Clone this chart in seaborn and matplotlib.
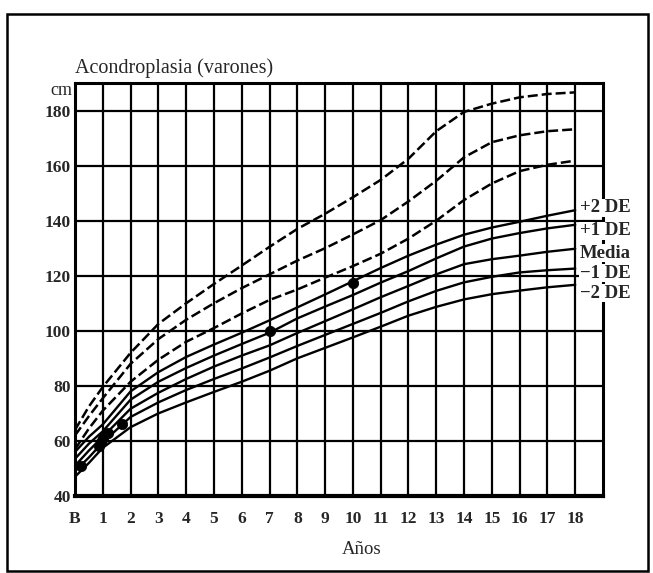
import numpy as np
import pandas as pd
import matplotlib
matplotlib.use("Agg")
import matplotlib.pyplot as plt
import seaborn as sns
from matplotlib.patches import Rectangle

# Ages (B = birth) and curves
ages = [0, 0.5, 1, 2, 3, 4, 5, 6, 7, 8, 9, 10, 11, 12, 13, 14, 15, 16, 17, 18]

# dashed reference curves (normal population)
norm_high = [64, 72.5, 79.6, 92, 102.5, 110, 117, 123.7, 130.5, 137, 142.5, 148.5, 154.8, 162.5, 172.5, 179.5, 182.5, 184.8, 186, 186.6]
norm_mid = [62, 69, 75.5, 88, 97, 104, 110, 115.5, 120.5, 125.5, 130, 135, 140.2, 147, 154.5, 163, 168.5, 171, 172.5, 173.2]
norm_low = [57, 64.5, 71, 81.5, 89.5, 96, 101, 106.3, 111.2, 115, 119.3, 123.5, 128, 133.5, 140, 147.5, 153.5, 158, 160.3, 161.8]

# achondroplasia curves
plus2 = [56, 61.5, 66, 78, 85, 90.5, 95, 99.3, 103.8, 108.5, 113.2, 118, 122.8, 127.3, 131.3, 134.9, 137.5, 139.6, 141.8, 143.8]
plus1 = [53.5, 59, 63.5, 75, 81.5, 86.5, 91, 95.2, 99.3, 104.5, 108.8, 113, 117.5, 121.7, 126.3, 130.6, 133.5, 135.5, 137.2, 138.5]
media = [51, 56.5, 61.5, 71.7, 77.5, 82.5, 87, 91, 94.7, 99.2, 103.5, 107.8, 112.2, 116.3, 120.5, 124.2, 126, 127.3, 128.7, 129.8]
minus1 = [49, 54, 59.5, 68.7, 74, 78.5, 82.5, 86.3, 90.3, 94.5, 98.5, 102.5, 106.5, 110.7, 114.5, 117.6, 119.6, 121.2, 122, 122.6]
minus2 = [47, 52, 57.5, 65, 70, 74, 77.8, 81.5, 85.5, 90, 93.8, 97.6, 101.5, 105.5, 108.7, 111.4, 113.3, 114.6, 115.8, 116.7]

# patient measurements
pt_age = [0.2, 0.88, 0.95, 1.02, 1.2, 1.68, 7.0, 10.0]
pt_cm = [51, 58.3, 59.5, 61, 63, 66.3, 100, 117.5]

x_ticks = list(range(0, 19))
x_labels = ["B"] + [str(i) for i in range(1, 19)]
y_ticks = list(range(40, 181, 20))
curve_labels = ["+2 DE", "+1 DE", "Media", "\u22121 DE", "\u22122 DE"]

sns.set_style("white")
plt.rcParams['font.family'] = ['Liberation Serif', 'DejaVu Serif']

fig = plt.figure(figsize=(6.53, 5.73), dpi=100)
W, H = 653, 573
ax = fig.add_axes([75 / W, 1 - 496 / H, (603 - 75) / W, (496 - 83) / H])

for yv in [norm_high, norm_mid, norm_low]:
    sns.lineplot(x=ages, y=yv, ax=ax, color='black', lw=1.8, linestyle=(0, (4, 1.6)))
for yv in [plus2, plus1, media, minus1, minus2]:
    sns.lineplot(x=ages, y=yv, ax=ax, color='black', lw=1.7)
sns.scatterplot(x=pt_age, y=pt_cm, ax=ax, color='black', s=55, edgecolor='black', zorder=5)

ax.set_xlim(0, 19)
ax.set_ylim(40, 190)
ax.set_xticks(x_ticks)
ax.set_xticklabels(x_labels)
ax.set_yticks(y_ticks)
ax.tick_params(length=0, labelsize=12.5)
ax.tick_params(axis='x', pad=11)
ax.tick_params(axis='y', pad=3)
for lab in ax.get_xticklabels() + ax.get_yticklabels():
    lab.set_fontweight('bold')
ax.grid(True, color='black', lw=1.6)
ax.set_axisbelow(True)
for sp in ax.spines.values():
    sp.set_color('black')
    sp.set_linewidth(2.2)
ax.spines['bottom'].set_linewidth(3)

# labels at the right end of the curves
label_y = [208, 231, 253, 273, 293]
for txt, py in zip(curve_labels, label_y):
    fig.text(580 / W, 1 - py / H, txt, ha='left', va='center', fontsize=13.5,
             fontweight='bold',
             bbox=dict(facecolor='white', edgecolor='none', pad=0.5))

fig.text(75 / W, 1 - 68 / H, "Acondroplasia (varones)", ha='left', va='center', fontsize=14.5)
fig.text(72 / W, 1 - 90 / H, "cm", ha='right', va='center', fontsize=13)
fig.text(362 / W, 1 - 550 / H, "A\u00f1os", ha='center', va='center', fontsize=13.5)

fig.patches.append(Rectangle((7 / W, 1 - 571 / H), (648 - 7) / W, (571 - 14) / H,
                             transform=fig.transFigure, fill=False, edgecolor='black', lw=1.8))

fig.savefig("out.png", dpi=100)
